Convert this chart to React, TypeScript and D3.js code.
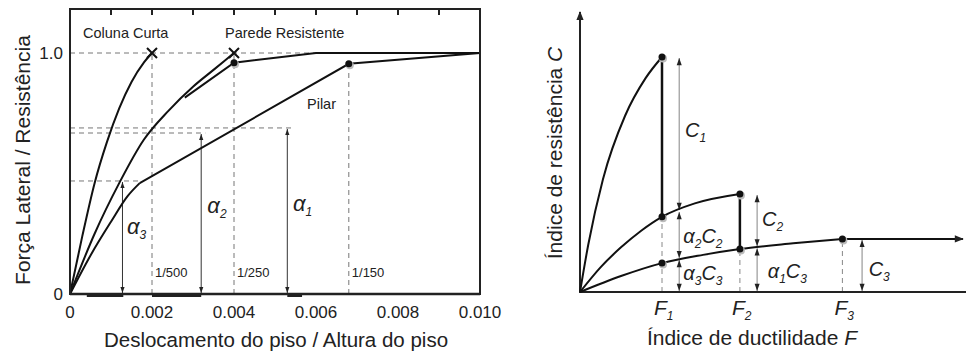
import React from 'react';
import * as d3 from 'd3';

// ---- grafico da esquerda: forca lateral x deslocamento ----
const xTicks = [0, 0.002, 0.004, 0.006, 0.008, 0.01];
const xTickLabels = ['0', '0.002', '0.004', '0.006', '0.008', '0.010'];
const topTicks = [0.001, 0.002, 0.003, 0.004, 0.005, 0.006, 0.007, 0.008, 0.009];
const yTicks = [0, 1];
const yTickLabels = ['0', '1.0'];

const colunaCurve: [number, number][] = [
  [0, 0], [0.0003, 0.24], [0.0006, 0.46], [0.0009, 0.63], [0.0012, 0.77],
  [0.0015, 0.88], [0.0018, 0.96], [0.002, 1],
];
const paredeCurve: [number, number][] = [
  [0, 0], [0.0006, 0.25], [0.0012, 0.46], [0.0018, 0.64], [0.0024, 0.76],
  [0.003, 0.86], [0.0035, 0.93], [0.004, 1],
];
const paredeYield: [number, number][] = [[0.0028, 0.815], [0.004, 0.96], [0.006, 1], [0.01, 1]];
const pilarRise: [number, number][] = [[0, 0], [0.0005, 0.16], [0.001, 0.3], [0.0014, 0.405], [0.0017, 0.46]];
const pilarLinear: [number, number][] = [[0.0017, 0.46], [0.0068, 0.955], [0.01, 1]];
const leftDots: [number, number][] = [[0.004, 0.96], [0.0068, 0.955]];
const failMarks: [number, number][] = [[0.002, 1], [0.004, 1]];

const hDashes = [
  { y: 1, x2: 0.006 },
  { y: 0.689, x2: 0.0054 },
  { y: 0.668, x2: 0.0033 },
  { y: 0.469, x2: 0.0017 },
];
const vDashes = [
  { x: 0.002, y2: 1, label: '1/500' },
  { x: 0.004, y2: 1, label: '1/250' },
  { x: 0.0068, y2: 0.955, label: '1/150' },
];
const alphaArrows = [
  { x: 0.00128, top: 0.469, sub: '3', lx: 0.00139, ly: 0.25 },
  { x: 0.0032, top: 0.668, sub: '2', lx: 0.00335, ly: 0.335 },
  { x: 0.0053, top: 0.689, sub: '1', lx: 0.00544, ly: 0.345 },
];
const baseThick = [[0.00041, 0.0013], [0.002, 0.0032], [0.0053, 0.00566]];

// ---- grafico da direita: resistencia x ductilidade ----
const curveC1: [number, number][] = [[0, 0], [0.1, 0.2], [0.28, 0.48], [0.55, 0.75], [0.8, 0.91], [1, 1]];
const curveC2: [number, number][] = [[0, 0], [0.25, 0.105], [0.5, 0.19], [0.75, 0.262], [1, 0.32], [1.4, 0.377], [1.95, 0.417]];
const curveC3: [number, number][] = [[0, 0], [0.5, 0.068], [1, 0.123], [1.5, 0.158], [1.95, 0.183], [2.6, 0.207], [3.2, 0.226]];
const flatC3: [number, number][] = [[3.2, 0.226], [4.67, 0.226]];
const fValues = [1, 1.95, 3.2];
const fSubs = ['1', '2', '3'];
const fDashTop = [0.32, 0.183, 0.226];
const rightDots: [number, number][] = [[1, 1], [1, 0.32], [1, 0.123], [1.95, 0.417], [1.95, 0.183], [3.2, 0.226]];
const drops: [number, number, number][] = [[1, 1, 0.32], [1.95, 0.417, 0.183]];
const dims = [
  { x: 1.21, y1: 1, y2: 0.345, label: 'C', sub: '1', pre: '', lx: 1.28, ly: 0.66 },
  { x: 1.21, y1: 0.345, y2: 0.14, label: 'C', sub: '2', pre: 'α', psub: '2', lx: 1.26, ly: 0.21 },
  { x: 1.21, y1: 0.14, y2: 0, label: 'C', sub: '3', pre: 'α', psub: '3', lx: 1.26, ly: 0.05 },
  { x: 2.16, y1: 0.417, y2: 0.19, label: 'C', sub: '2', pre: '', lx: 2.22, ly: 0.28 },
  { x: 2.16, y1: 0.19, y2: 0, label: 'C', sub: '3', pre: 'α', psub: '1', lx: 2.29, ly: 0.06 },
  { x: 3.44, y1: 0.226, y2: 0, label: 'C', sub: '3', pre: '', lx: 3.52, ly: 0.07 },
];

const font = '"Liberation Sans", Arial, sans-serif';

export default function App() {
  const xL = d3.scaleLinear().domain([0, 0.01]).range([70, 480]);
  const yL = d3.scaleLinear().domain([0, 1]).range([294, 53]);
  const xR = d3.scaleLinear().domain([0, 1]).range([580, 662]);
  const yR = d3.scaleLinear().domain([0, 1]).range([292, 57]);

  const lineL = d3.line<[number, number]>().x(d => xL(d[0])).y(d => yL(d[1])).curve(d3.curveMonotoneX);
  const lineLs = d3.line<[number, number]>().x(d => xL(d[0])).y(d => yL(d[1]));
  const lineR = d3.line<[number, number]>().x(d => xR(d[0])).y(d => yR(d[1])).curve(d3.curveMonotoneX);
  const lineRs = d3.line<[number, number]>().x(d => xR(d[0])).y(d => yR(d[1]));

  const dash = '5,4';

  return (
    <svg width={966} height={352} style={{ position: 'absolute', left: 0, top: 0, background: '#fff' }} fontFamily={font}>
      <defs>
        <marker id="ah" viewBox="0 0 10 10" refX="10" refY="5" markerWidth="7" markerHeight="6" orient="auto-start-reverse">
          <path d="M0,1.5L10,5L0,8.5z" fill="#222" />
        </marker>
        <marker id="axh" viewBox="0 0 10 10" refX="9" refY="5" markerUnits="userSpaceOnUse" markerWidth="10" markerHeight="9" orient="auto">
          <path d="M0,1L10,5L0,9z" fill="#222" />
        </marker>
      </defs>

      {/* ===== esquerda ===== */}
      <g>
        {hDashes.map((d, i) => (
          <line key={'h' + i} x1={xL(0)} x2={xL(d.x2)} y1={yL(d.y)} y2={yL(d.y)} stroke="#777" strokeDasharray={dash} />
        ))}
        {vDashes.map((d, i) => (
          <g key={'v' + i}>
            <line x1={xL(d.x)} x2={xL(d.x)} y1={yL(0)} y2={yL(d.y2)} stroke="#777" strokeDasharray={dash} />
            <text x={xL(d.x) + 3} y={yL(0.07)} fontSize={13} fill="#222">{d.label}</text>
          </g>
        ))}
        {baseThick.map((d, i) => (
          <line key={'b' + i} x1={xL(d[0])} x2={xL(d[1])} y1={yL(0) + 1.5} y2={yL(0) + 1.5} stroke="#222" strokeWidth={3} />
        ))}
        {alphaArrows.map((d, i) => (
          <g key={'a' + i}>
            <line x1={xL(d.x)} x2={xL(d.x)} y1={yL(0) - 1} y2={yL(d.top) + 1} stroke="#333" strokeWidth={1}
              markerStart="url(#ah)" markerEnd="url(#ah)" />
            <text x={xL(d.lx)} y={yL(d.ly)} fontSize={22} fontStyle="italic" fill="#222">
              α<tspan fontSize={12} dy={5}>{d.sub}</tspan>
            </text>
          </g>
        ))}

        <path d={lineL(colunaCurve) || ''} fill="none" stroke="#111" strokeWidth={2} />
        <path d={lineL(paredeCurve) || ''} fill="none" stroke="#111" strokeWidth={2} />
        <path d={lineLs(paredeYield) || ''} fill="none" stroke="#111" strokeWidth={2} />
        <path d={lineL(pilarRise) || ''} fill="none" stroke="#111" strokeWidth={2} />
        <path d={lineLs(pilarLinear) || ''} fill="none" stroke="#111" strokeWidth={2} />

        {leftDots.map((d, i) => (
          <g key={'d' + i}>
            <circle cx={xL(d[0]) + 1} cy={yL(d[1]) + 1.5} r={4} fill="#bbb" />
            <circle cx={xL(d[0])} cy={yL(d[1])} r={3.5} fill="#111" />
          </g>
        ))}
        {failMarks.map((d, i) => (
          <path key={'x' + i}
            d={`M${xL(d[0]) - 5},${yL(d[1]) - 5}L${xL(d[0]) + 5},${yL(d[1]) + 5}M${xL(d[0]) - 5},${yL(d[1]) + 5}L${xL(d[0]) + 5},${yL(d[1]) - 5}`}
            stroke="#111" strokeWidth={2} />
        ))}

        <rect x={xL(0)} y={9} width={xL(0.01) - xL(0)} height={yL(0) - 9} fill="none" stroke="#222" strokeWidth={2} />
        <line x1={xL(0)} x2={xL(0.01)} y1={yL(0)} y2={yL(0)} stroke="#222" strokeWidth={2.5} />
        {topTicks.map(t => (
          <line key={'t' + t} x1={xL(t)} x2={xL(t)} y1={9} y2={15} stroke="#222" strokeWidth={2} />
        ))}
        {xTicks.map((t, i) => (
          <text key={'xl' + i} x={xL(t)} y={318} fontSize={17} textAnchor="middle" fill="#222">{xTickLabels[i]}</text>
        ))}
        {yTicks.map((t, i) => (
          <text key={'yl' + i} x={63} y={yL(t) + 6} fontSize={17} textAnchor="end" fill="#222">{yTickLabels[i]}</text>
        ))}

        <text x={83} y={38} fontSize={14.5} fill="#222">Coluna Curta</text>
        <text x={225} y={38} fontSize={14.5} fill="#222">Parede Resistente</text>
        <text x={307} y={109} fontSize={14.5} fill="#222">Pilar</text>

        <text x={276} y={347} fontSize={20.5} textAnchor="middle" fill="#222">Deslocamento do piso / Altura do piso</text>
        <text transform="translate(30,160) rotate(-90)" fontSize={21} textAnchor="middle" fill="#222">Força Lateral / Resistência</text>
      </g>

      {/* ===== direita ===== */}
      <g>
        {fValues.map((f, i) => (
          <line key={'fd' + i} x1={xR(f)} x2={xR(f)} y1={yR(0)} y2={yR(fDashTop[i])} stroke="#888" strokeDasharray="5,4" />
        ))}
        {dims.map((d, i) => (
          <g key={'dm' + i}>
            <line x1={xR(d.x)} x2={xR(d.x)} y1={yR(d.y1) + 1} y2={yR(d.y2) - 1} stroke="#999" strokeWidth={1.2}
              markerStart="url(#ah)" markerEnd="url(#ah)" />
            <text x={xR(d.lx)} y={yR(d.ly)} fontSize={20} fontStyle="italic" fill="#222">
              {d.pre ? (
                <>
                  {d.pre}<tspan fontSize={12} dy={5}>{d.psub}</tspan><tspan dy={-5}>{d.label}</tspan>
                </>
              ) : d.label}
              <tspan fontSize={12} dy={5}>{d.sub}</tspan>
            </text>
          </g>
        ))}

        <line x1={580} x2={580} y1={yR(0)} y2={12} stroke="#222" strokeWidth={2} markerEnd="url(#axh)" />
        <line x1={579} x2={966} y1={yR(0)} y2={yR(0)} stroke="#222" strokeWidth={2} />

        <path d={lineR(curveC1) || ''} fill="none" stroke="#111" strokeWidth={2} />
        <path d={lineR(curveC2) || ''} fill="none" stroke="#111" strokeWidth={2} />
        <path d={lineR(curveC3) || ''} fill="none" stroke="#111" strokeWidth={2} />
        <path d={lineRs(flatC3) || ''} fill="none" stroke="#111" strokeWidth={2} markerEnd="url(#axh)" />
        {drops.map((d, i) => (
          <line key={'dr' + i} x1={xR(d[0])} x2={xR(d[0])} y1={yR(d[1])} y2={yR(d[2])} stroke="#111" strokeWidth={2.5} />
        ))}
        {rightDots.map((d, i) => (
          <g key={'rd' + i}>
            <circle cx={xR(d[0]) + 1} cy={yR(d[1]) + 1.5} r={4} fill="#bbb" />
            <circle cx={xR(d[0])} cy={yR(d[1])} r={3.5} fill="#111" />
          </g>
        ))}

        {fValues.map((f, i) => (
          <text key={'fl' + i} x={xR(f) - 8} y={315} fontSize={21} fontStyle="italic" fill="#222">
            F<tspan fontSize={12} dy={5}>{fSubs[i]}</tspan>
          </text>
        ))}

        <text x={752} y={345} fontSize={21} textAnchor="middle" fill="#222">
          Índice de ductilidade <tspan fontStyle="italic">F</tspan>
        </text>
        <text transform="translate(562,153) rotate(-90)" fontSize={21} textAnchor="middle" fill="#222">
          Índice de resistência <tspan fontStyle="italic">C</tspan>
        </text>
      </g>
    </svg>
  );
}
